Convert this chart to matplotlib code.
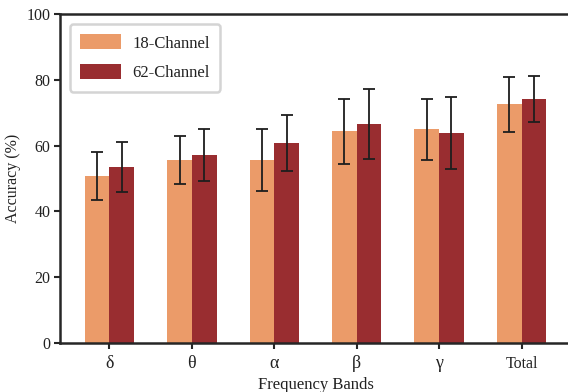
import numpy as np
import matplotlib.pyplot as plt

plt.rcParams['font.family'] = ['Liberation Serif', 'DejaVu Serif']

bands = ['δ', 'θ', 'α', 'β', 'γ', 'Total']
acc_18 = [50.8, 55.6, 55.6, 64.4, 65.0, 72.6]
err_18 = [7.2, 7.3, 9.4, 9.9, 9.3, 8.4]
acc_62 = [53.5, 57.1, 60.8, 66.6, 63.8, 74.2]
err_62 = [7.5, 8.0, 8.6, 10.6, 11.0, 7.1]

COLOR_18 = '#EB9B69'
COLOR_62 = '#992D30'
SPINE = '#262626'
TEXT = '#222222'

fig = plt.figure(figsize=(5.68, 3.92), dpi=100)
ax = fig.add_axes([60 / 568, 49 / 392, 511 / 568, 329 / 392])

x = np.arange(len(bands))
width = 0.3
err_kw = dict(ecolor='#1e1e1e', elinewidth=1.3, capsize=4, capthick=1.3)
ax.bar(x - width / 2, acc_18, width, yerr=err_18, color=COLOR_18,
       label='18-Channel', error_kw=err_kw)
ax.bar(x + width / 2, acc_62, width, yerr=err_62, color=COLOR_62,
       label='62-Channel', error_kw=err_kw)

ax.set_xlim(-0.6, 5.6)
ax.set_ylim(0, 100)
ax.set_xticks(x)
ax.set_xticklabels(bands)
ax.set_yticks(np.arange(0, 101, 20))
ax.tick_params(axis='both', length=4, width=1.5, color=SPINE, labelcolor=TEXT, pad=3)
ax.tick_params(axis='y', labelsize=11.5)
ax.tick_params(axis='x', labelsize=13, pad=5)
for lbl in ax.get_xticklabels():
    if lbl.get_text() == 'Total':
        lbl.set_fontsize(11.5)

for side in ['left', 'bottom', 'top']:
    ax.spines[side].set_color(SPINE)
    ax.spines[side].set_linewidth(1.8)
ax.spines['right'].set_visible(False)

ax.set_xlabel('Frequency Bands', fontsize=12, color=TEXT, labelpad=3)
ax.set_ylabel('Accuracy (%)', fontsize=11.5, color=TEXT, labelpad=4)

leg = ax.legend(loc='upper left', fontsize=12, handlelength=2.45, handleheight=1.0,
                labelspacing=0.75, borderpad=0.62, handletextpad=0.65,
                borderaxespad=0.6, fancybox=True, framealpha=1)
leg.get_frame().set_edgecolor('#d4d4d4')
leg.get_frame().set_linewidth(1.8)
for t in leg.get_texts():
    t.set_color(TEXT)

fig.savefig('out.png', dpi=100)
